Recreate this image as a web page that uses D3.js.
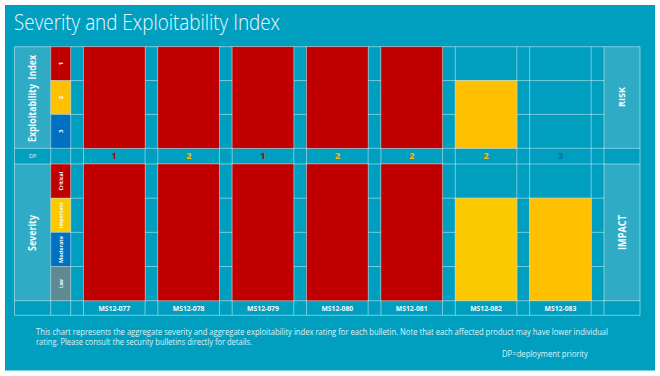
<!DOCTYPE html>
<html><head><meta charset="utf-8">
<script src="https://cdn.jsdelivr.net/npm/d3@7"></script>
<style>
html,body{margin:0;padding:0;background:#fff;}
svg{display:block;font-family:"Open Sans","Noto Sans",sans-serif;}
</style></head>
<body>
<svg id="chart" width="660" height="376"></svg>
<script>
// ---- data ----
const bulletins = ["MS12-077","MS12-078","MS12-079","MS12-080","MS12-081","MS12-082","MS12-083"];
const exploitability = [1,1,1,1,1,2,null];
const severity = ["Critical","Critical","Critical","Critical","Critical","Important","Important"];
const deploymentPriority = [1,2,1,2,2,2,3];
const exploitLevels = [1,2,3];
const severityLevels = ["Critical","Important","Moderate","Low"];
const titleText = "Severity and Exploitability Index";
const noteLines = ["This chart represents the aggregate severity and aggregate exploitability index rating for each bulletin. Note that each affected product may have lower individual",
                   "rating. Please consult the security bulletins directly for details."];
const dpNote = "DP=deployment priority";

(function(){
// ---- styles ----
const TEAL = "#009fc0", LIGHT = "#30abc6", GRID = "rgba(255,255,255,0.45)";
const exploitColor = {1:"#c00000",2:"#ffc000",3:"#0070c0"};
const sevColor = {Critical:"#c00000",Important:"#fcc900",Moderate:"#0070c0",Low:"#5f8a93"};
const dpColor = {1:"#c00000",2:"#ffc000",3:"#0070c0"};

const svg = d3.select("#chart");
svg.append("rect").attr("x",5).attr("y",5).attr("width",650).attr("height",365.5).attr("fill",TEAL);

svg.append("text").attr("x",14).attr("y",30).attr("fill","#eef9fc")
  .attr("font-size",22.5).attr("font-weight",300).attr("textLength",266).attr("lengthAdjust","spacingAndGlyphs")
  .text(titleText);

// layout
const L0 = 14.5, L1 = 50.7, L2 = 70.7, R0 = 604, R1 = 640;
const yTop = 46.7, eBot = 148.3, sTop = 164, sBot = 300.7, yBot = 315.3;

const x = d3.scaleBand().domain(bulletins).range([L2, R0]).paddingInner(0.172).paddingOuter(0.172);
const yE = d3.scaleBand().domain(exploitLevels).range([yTop, eBot]);
const yS = d3.scaleBand().domain(severityLevels).range([sTop, sBot]);

// label panels
svg.append("rect").attr("x",L0).attr("y",yTop).attr("width",L1-L0).attr("height",eBot-yTop).attr("fill",LIGHT);
svg.append("rect").attr("x",L0).attr("y",sTop).attr("width",L1-L0).attr("height",sBot-sTop).attr("fill",LIGHT);
svg.append("rect").attr("x",R0).attr("y",yTop).attr("width",R1-R0).attr("height",eBot-yTop).attr("fill",LIGHT);
svg.append("rect").attr("x",R0).attr("y",sTop).attr("width",R1-R0).attr("height",sBot-sTop).attr("fill",LIGHT);

// color key cells
svg.selectAll(".ek").data(exploitLevels).join("rect")
  .attr("x",L1).attr("y",d=>yE(d)).attr("width",L2-L1).attr("height",yE.bandwidth()).attr("fill",d=>exploitColor[d]);
svg.selectAll(".sk").data(severityLevels).join("rect")
  .attr("x",L1).attr("y",d=>yS(d)).attr("width",L2-L1).attr("height",yS.bandwidth()).attr("fill",d=>sevColor[d]);

// grid lines
const g = svg.append("g").attr("stroke",GRID).attr("stroke-width",1);
const vx = [L0, L1, L2];
bulletins.forEach(b=>{vx.push(x(b)); vx.push(x(b)+x.bandwidth());});
vx.push(R0, R1);
vx.forEach(v=> g.append("line").attr("x1",v).attr("x2",v).attr("y1",yTop).attr("y2",yBot));
[yTop, eBot, sTop, sBot, yBot].forEach(v=> g.append("line").attr("x1",L0).attr("x2",R1).attr("y1",v).attr("y2",v));
exploitLevels.slice(1).forEach(d=> g.append("line").attr("x1",L1).attr("x2",R0).attr("y1",yE(d)).attr("y2",yE(d)));
severityLevels.slice(1).forEach(d=> g.append("line").attr("x1",L1).attr("x2",R0).attr("y1",yS(d)).attr("y2",yS(d)));

// bars
const rows = bulletins.map((b,i)=>({b, e:exploitability[i], s:severity[i], dp:deploymentPriority[i]}));
svg.selectAll(".eb").data(rows.filter(d=>d.e!=null)).join("rect")
  .attr("x",d=>x(d.b)).attr("y",d=>yE(d.e)).attr("width",x.bandwidth()).attr("height",d=>eBot-yE(d.e))
  .attr("fill",d=>exploitColor[d.e]).attr("stroke","rgba(255,255,255,0.35)").attr("stroke-width",0.8);
svg.selectAll(".sb").data(rows.filter(d=>d.s!=null)).join("rect")
  .attr("x",d=>x(d.b)).attr("y",d=>yS(d.s)).attr("width",x.bandwidth()).attr("height",d=>sBot-yS(d.s))
  .attr("fill",(d,i)=> i===rows.length-1 ? "#ffc000" : sevColor[d.s]).attr("stroke","rgba(255,255,255,0.35)").attr("stroke-width",0.8);

// DP values
svg.selectAll(".dp").data(rows).join("text")
  .attr("x",d=>x(d.b)+x.bandwidth()/2).attr("y",(eBot+sTop)/2+3.3).attr("text-anchor","middle")
  .attr("font-size",9.5).attr("font-weight",700).attr("fill",d=>dpColor[d.dp])
  .attr("stroke","rgba(0,0,0,0.15)").attr("stroke-width",0.3)
  .text(d=>d.dp);
svg.append("text").attr("x",(L0+L1)/2).attr("y",(eBot+sTop)/2+2).attr("text-anchor","middle")
  .attr("font-size",5.5).attr("fill","#e0f4f8").text("DP");

// bulletin labels
svg.selectAll(".bl").data(bulletins).join("text")
  .attr("x",d=>x(d)+x.bandwidth()/2).attr("y",(sBot+yBot)/2+2.5).attr("text-anchor","middle")
  .attr("font-size",6.8).attr("font-weight",700).attr("fill","#f2fbfd").text(d=>d);

// rotated labels
function vtext(cx, cy, txt, size, weight, len){
  const t = svg.append("text").attr("transform",`translate(${cx},${cy}) rotate(-90)`)
    .attr("text-anchor","middle").attr("dy","0.35em").attr("font-size",size).attr("font-weight",weight)
    .attr("fill","#f4fbfd").style("white-space","pre").text(txt);
  if (len) t.attr("textLength",len).attr("lengthAdjust","spacingAndGlyphs");
}
vtext((L0+L1)/2, 98.5, "Exploitability  Index", 10, 700, 87);
vtext((L0+L1)/2, 233, "Severity", 11, 700, 36);
vtext((R0+R1)/2, 97, "RISK", 8.5, 700, 20);
vtext((R0+R1)/2, 232.5, "IMPACT", 10.5, 700, 35);
const keyLen = {Critical:19, Important:26, Moderate:27, Low:9};
exploitLevels.forEach(d=> vtext((L1+L2)/2, yE(d)+yE.bandwidth()/2, String(d), 6, 700));
severityLevels.forEach(d=> vtext((L1+L2)/2, yS(d)+yS.bandwidth()/2, d, 6, 700, keyLen[d]));

// footer
svg.append("text").attr("x",36).attr("y",334.5).attr("font-size",8.2).attr("fill","#dff3f8")
  .attr("textLength",572).attr("lengthAdjust","spacingAndGlyphs").text(noteLines[0]);
svg.append("text").attr("x",36).attr("y",344.5).attr("font-size",8.2).attr("fill","#dff3f8")
  .attr("textLength",216).attr("lengthAdjust","spacingAndGlyphs").text(noteLines[1]);
svg.append("text").attr("x",502).attr("y",357).attr("font-size",8.2).attr("fill","#dff3f8")
  .attr("textLength",86).attr("lengthAdjust","spacingAndGlyphs").text(dpNote);
})();
</script>
</body></html>
